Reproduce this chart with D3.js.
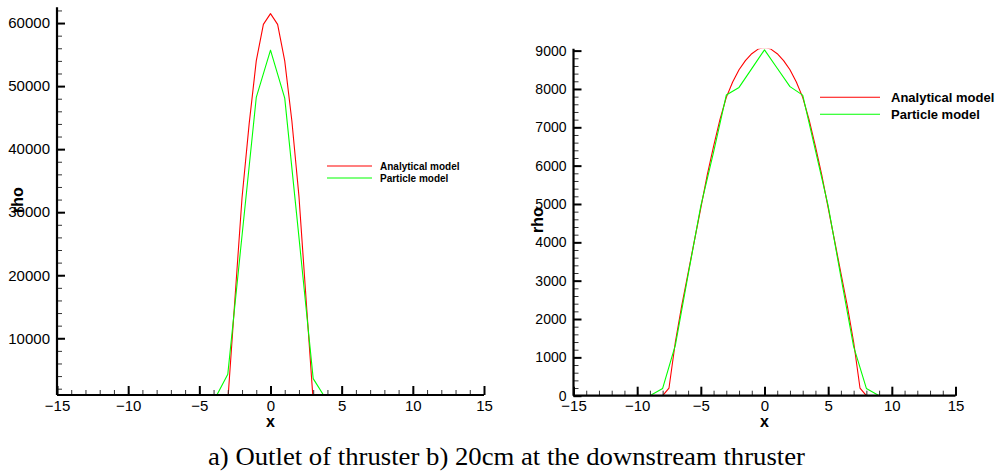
<!DOCTYPE html>
<html>
<head>
<meta charset="utf-8">
<script src="https://cdn.jsdelivr.net/npm/d3@7"></script>
<style>
  html, body { margin: 0; padding: 0; background: #fff; }
  svg { display: block; }
</style>
</head>
<body>
<div id="chart"></div>
<script>
// ---- data ----
// a) outlet of thruster
const outletRedX   = [-15, -3, -2.5, -2, -1.5, -1, -0.5, 0, 0.5, 1, 1.5, 2, 2.5, 3, 15];
const outletRedY   = [0, 0, 16200, 32300, 44000, 54000, 59800, 61500, 59800, 54000, 44500, 32500, 16200, 0, 0];
const outletGreenX = [-15, -4, -3, -2, -1, 0, 1, 2, 3, 4, 15];
const outletGreenY = [0, 0, 4300, 26300, 48200, 55700, 48100, 26000, 3600, 0, 0];

// b) 20cm downstream
const downRedX   = [-15, -8, -7.5, -7, -6.5, -6, -5.5, -5, -4.5, -4, -3.5, -3, -2.5, -2, -1.5, -1, -0.5, 0,
                    0.5, 1, 1.5, 2, 2.5, 3, 3.5, 4, 4.5, 5, 5.5, 6, 6.5, 7, 7.5, 8, 15];
const downRedY   = [0, 0, 200, 1400, 2350, 3200, 4050, 4900, 5750, 6500, 7200, 7780, 8180, 8500, 8740, 8920, 9040, 9080,
                    9040, 8920, 8740, 8500, 8180, 7780, 7200, 6500, 5750, 4900, 4050, 3200, 2350, 1400, 200, 0, 0];
const downGreenX = [-15, -9, -8, -7, -6, -5, -4, -3, -2, -1, 0, 1, 2, 3, 4, 5, 6, 7, 8, 9, 15];
const downGreenY = [0, 0, 190, 1320, 3150, 4950, 6350, 7840, 8040, 8530, 9020, 8540, 8060, 7840, 6400, 4950, 3100, 1280, 190, 0, 0];

const seriesNames = ["Analytical model", "Particle model"];
const seriesColors = ["#ff0000", "#00ff00"];

const xMajor = [-15, -10, -5, 0, 5, 10, 15];
const xMinor = d3.range(-15, 16, 1);
const outletYMajor = [10000, 20000, 30000, 40000, 50000, 60000];
const outletYMinor = d3.range(2000, 62001, 2000);
const downYMajor = [0, 1000, 2000, 3000, 4000, 5000, 6000, 7000, 8000, 9000];
const downYMinor = d3.range(0, 9001, 200);

const captionText = "a) Outlet of thruster b) 20cm at the downstream thruster";

const width = 1000, height = 473;
const svg = d3.select("#chart").append("svg")
    .attr("width", width)
    .attr("height", height);

function zip(xs, ys) { return xs.map((x, i) => [x, ys[i]]); }

function drawPanel(p) {
    const x = d3.scaleLinear().domain([-15, 15]).range([p.left, p.right]);
    const y = d3.scaleLinear().domain(p.yDomain).range([p.bottom, p.top]);

    const g = svg.append("g");

    // clip lines to the frame
    g.append("clipPath").attr("id", p.id + "-clip")
        .append("rect")
        .attr("x", p.left).attr("y", p.top)
        .attr("width", p.right - p.left).attr("height", p.bottom - p.top);

    const line = d3.line().x(d => x(d[0])).y(d => y(d[1]));

    const lines = g.append("g").attr("clip-path", `url(#${p.id}-clip)`);
    p.series.forEach((s, i) => {
        lines.append("path")
            .datum(zip(s.x, s.y))
            .attr("d", line)
            .attr("fill", "none")
            .attr("stroke", seriesColors[i])
            .attr("stroke-width", 1.1)
            .attr("stroke-linejoin", "round");
    });

    // minor ticks (inside)
    g.append("g")
        .attr("transform", `translate(0,${p.bottom})`)
        .call(d3.axisBottom(x).tickValues(xMinor).tickSize(-5).tickFormat(""))
        .call(a => a.select(".domain").remove())
        .selectAll("line").attr("stroke", "#333").attr("stroke-width", 1);
    g.append("g")
        .attr("transform", `translate(${p.left},0)`)
        .call(d3.axisLeft(y).tickValues(p.yMinor).tickSize(-5).tickFormat(""))
        .call(a => a.select(".domain").remove())
        .selectAll("line").attr("stroke", "#333").attr("stroke-width", 1);

    // major ticks + labels
    const xa = g.append("g")
        .attr("transform", `translate(0,${p.bottom})`)
        .call(d3.axisBottom(x).tickValues(xMajor).tickSizeInner(-9).tickSizeOuter(0).tickPadding(5));
    const ya = g.append("g")
        .attr("transform", `translate(${p.left},0)`)
        .call(d3.axisLeft(y).tickValues(p.yMajor).tickSizeInner(-8).tickSizeOuter(0).tickPadding(7)
            .tickFormat(d3.format("d")));
    [xa, ya].forEach(a => {
        a.attr("font-family", "Liberation Sans, Arial, sans-serif");
        a.select(".domain").remove();
        a.selectAll("line").attr("stroke", "#000").attr("stroke-width", 2);
        a.selectAll("text").attr("fill", "#000");
    });
    xa.attr("font-size", 15);
    ya.attr("font-size", p.yFont);

    // axis lines
    g.append("line")
        .attr("x1", p.left).attr("x2", p.right)
        .attr("y1", p.bottom).attr("y2", p.bottom)
        .attr("stroke", "#000").attr("stroke-width", 2.2);
    g.append("line")
        .attr("x1", p.left).attr("x2", p.left)
        .attr("y1", p.top).attr("y2", p.bottom)
        .attr("stroke", "#000").attr("stroke-width", 2.2);

    // axis titles
    g.append("text")
        .attr("x", x(0)).attr("y", 427)
        .attr("text-anchor", "middle")
        .attr("font-family", "Liberation Sans, Arial, sans-serif")
        .attr("font-weight", "bold").attr("font-size", 16)
        .text("x");
    g.append("text")
        .attr("transform", `translate(${p.rhoX},${p.rhoY}) rotate(-90)`)
        .attr("text-anchor", "middle")
        .attr("font-family", "Liberation Sans, Arial, sans-serif")
        .attr("font-weight", "bold").attr("font-size", 16)
        .text("rho");

    // legend
    seriesNames.forEach((name, i) => {
        const ly = p.legendY + i * p.legendGap;
        g.append("line")
            .attr("x1", p.legendX).attr("x2", p.legendX + p.legendLen)
            .attr("y1", ly).attr("y2", ly)
            .attr("stroke", seriesColors[i]).attr("stroke-width", 1.1);
        g.append("text")
            .attr("x", p.legendX + p.legendLen + p.legendPad)
            .attr("y", ly + p.legendFont * 0.36)
            .attr("font-family", "Liberation Sans, Arial, sans-serif")
            .attr("font-weight", "bold").attr("font-size", p.legendFont)
            .text(name);
    });
}

drawPanel({
    id: "outlet",
    left: 57, right: 484, top: 7.3, bottom: 395,
    yDomain: [1000, 62500],
    yMajor: outletYMajor, yMinor: outletYMinor, yFont: 15,
    series: [{ x: outletRedX, y: outletRedY }, { x: outletGreenX, y: outletGreenY }],
    rhoX: 23, rhoY: 200,
    legendX: 327, legendY: 166, legendGap: 12, legendLen: 45, legendPad: 8, legendFont: 10
});

drawPanel({
    id: "down",
    left: 573.5, right: 955.5, top: 48.7, bottom: 395.7,
    yDomain: [0, 9050],
    yMajor: downYMajor, yMinor: downYMinor, yFont: 14,
    series: [{ x: downRedX, y: downRedY }, { x: downGreenX, y: downGreenY }],
    rhoX: 543, rhoY: 220,
    legendX: 820, legendY: 97.3, legendGap: 17, legendLen: 60, legendPad: 11, legendFont: 13
});

// caption
svg.append("text")
    .attr("x", 208).attr("y", 465)
    .attr("font-family", "Liberation Serif, Times New Roman, serif")
    .attr("font-size", 26)
    .attr("textLength", 597)
    .attr("lengthAdjust", "spacingAndGlyphs")
    .attr("fill", "#000")
    .text(captionText);
</script>
</body>
</html>
